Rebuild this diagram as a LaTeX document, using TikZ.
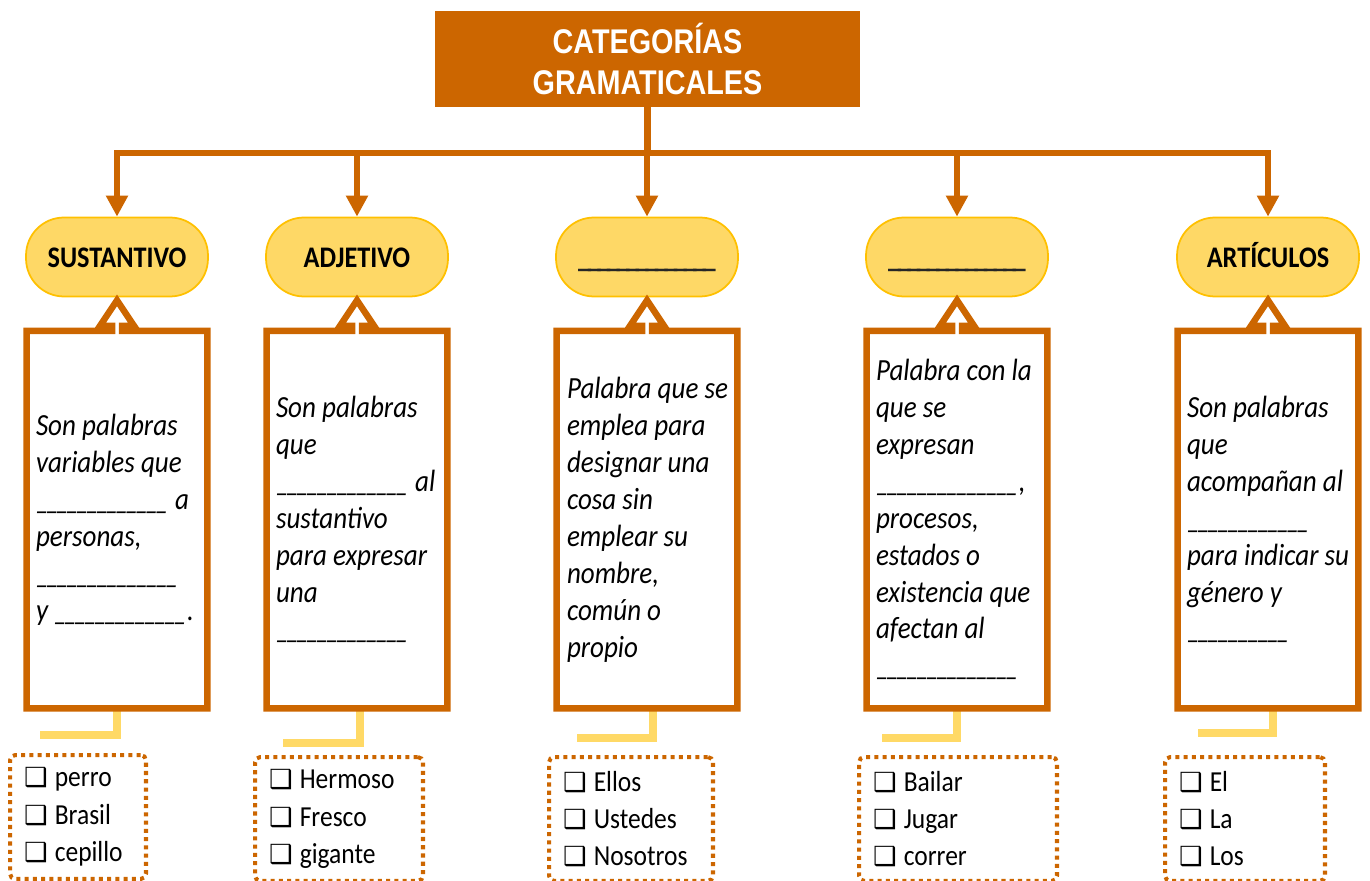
\documentclass[tikz,border=0pt]{standalone}
\usepackage{fontspec}
\setmainfont{Carlito}[FakeStretch=0.88]
\newfontfamily\fuentetitulo{Liberation Sans}[FakeStretch=0.84]
\newfontfamily\simbolo{DejaVu Sans}
\usetikzlibrary{calc}
\usetikzlibrary{positioning}
\usetikzlibrary{arrows.meta}
\definecolor{naranja}{RGB}{204,102,0}
\definecolor{oro}{RGB}{254,216,102}
\definecolor{dorado}{RGB}{255,192,0}
\definecolor{amarillo}{RGB}{255,217,102}
\definecolor{gris}{RGB}{38,38,38}
\newcommand{\casilla}{\makebox[17.5pt][l]{\simbolo\fontsize{15}{15}\selectfont ❑}}
\newcommand{\raya}[1]{\foreach \i in {1,...,#1}{\_\kern-2pt}\kern2pt\relax}
\newcommand{\cuadro}[2]{\draw[marco] (#1.south west) -- (#1.north west) -- ($(#1.north)+(-5,0)$) -- ++(0,5) -- ++(-12,0) -- ($(#2.south)+(0,-3)$) -- ($(#1.north)+(17,5)$) -- ++(-12,0) -- ++(0,-5) -- (#1.north east) -- (#1.south east) -- cycle;}
\tikzset{
 titulo/.style={fill=naranja, minimum width=8.5cm, minimum height=1.92cm, text=white, align=center, font=\fuentetitulo\bfseries\fontsize{19.5}{22.8}\selectfont},
 categoria/.style={fill=oro, draw=dorado, line width=1pt, rounded corners=0.76cm, minimum width=3.64cm, minimum height=1.58cm, text height=12pt, text depth=0pt, font=\bfseries\fontsize{17}{20}\selectfont},
 hueco/.style={minimum width=3.6cm, minimum height=7.54cm},
 marco/.style={draw=naranja, line width=3.7pt},
 texto/.style={align=left, inner sep=0pt, font=\itshape\fontsize{17.5}{21}\selectfont},
 lista/.style={draw=naranja, line width=2.3pt, dash pattern=on 2.3pt off 2.4pt, rounded corners=3pt, align=left, inner xsep=0.28cm, minimum height=2.48cm, anchor=north west, font=\fontsize{16.5}{21.3}\selectfont},
 enlace/.style={draw=amarillo, line width=4pt},
 rama/.style={draw=naranja, line width=3.6pt, ->, >={Triangle[length=12pt,width=12pt]}}
}
\begin{document}
\begin{tikzpicture}[x=0.02cm, y=0.02cm]
\useasboundingbox (0,0) rectangle (1370,880);
\node[titulo] (cat) at (647.5,821) {CATEGORÍAS\\GRAMATICALES};
\node[categoria] (c1) at (117,623) {SUSTANTIVO};
\node[categoria] (c2) at (357,623) {ADJETIVO};
\node[categoria, text=gris] (c3) at (647,623) {\raya{14}};
\node[categoria, text=gris] (c4) at (957,623) {\raya{14}};
\node[categoria] (c5) at (1268,623) {ARTÍCULOS};
\coordinate (bus) at (647.5,727);
\draw[naranja, line width=3.6pt] (cat.south) -- (bus);
\draw[naranja, line width=3.6pt, line cap=rect] (c1 |- bus) -- (c5 |- bus);
\foreach \n in {1,...,5} {
 \draw[rama] (c\n |- bus) -- (c\n.north);
 \node[hueco, below=0.67cm of c\n] (d\n) {};
}
\foreach \n/\dx/\fx/\fy in {1/0/40/145, 2/3/283/137, 3/6/577/142, 4/0/882/142, 5/5/1198/147} {
 \coordinate (f\n) at (\fx,\fy);
 \draw[enlace] ($(d\n.south)+(\dx,0)$) |- (f\n);
}
\foreach \n in {1,...,5} \cuadro{d\n}{c\n};
\node[texto, right=0.18cm of d1.west] (t1) {Son palabras\\variables que\\\raya{13} a\\personas,\\\raya{14}\\y \raya{13}.};
\node[texto, right=0.18cm of d2.west] (t2) {Son palabras\\que\\\raya{13} al\\sustantivo\\para expresar\\una\\\raya{13}};
\node[texto, right=0.2cm of d3.west] (t3) {Palabra que se\\emplea para\\designar una\\cosa sin\\emplear su\\nombre,\\común o\\propio};
\node[texto, right=0.18cm of d4.west] (t4) {Palabra con la\\que se\\expresan\\\raya{14},\\procesos,\\estados o\\existencia que\\afectan al\\\raya{14}};
\node[texto, right=0.18cm of d5.west] (t5) {Son palabras\\que\\acompañan al\\\raya{12}\\para indicar su\\género y\\\raya{10}};
\node[lista, text width=2.16cm] (e1) at (8,127) {\casilla perro\\\casilla Brasil\\\casilla cepillo};
\node[lista, text width=2.8cm] (e2) at (253,125) {\casilla Hermoso\\\casilla Fresco\\\casilla gigante};
\node[lista, text width=2.72cm] (e3) at (547,125) {\casilla Ellos\\\casilla Ustedes\\\casilla Nosotros};
\node[lista, text width=3.4cm] (e4) at (857,125) {\casilla Bailar\\\casilla Jugar\\\casilla correr};
\node[lista, text width=2.64cm] (e5) at (1163,125) {\casilla El\\\casilla La\\\casilla Los};
\end{tikzpicture}
\end{document}
